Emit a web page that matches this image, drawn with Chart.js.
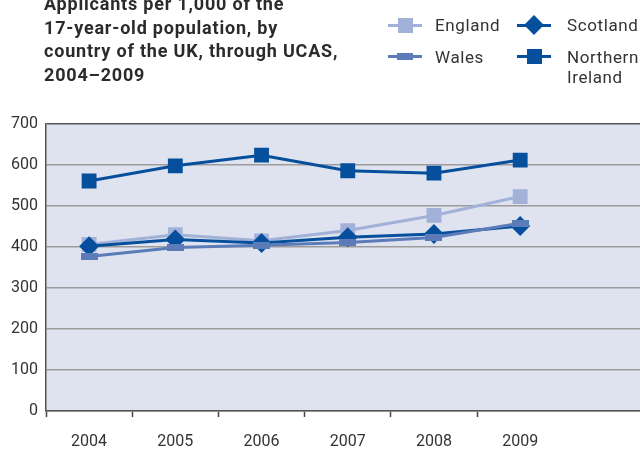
<!DOCTYPE html>
<html>
<head>
<meta charset="utf-8">
<script src="https://cdn.jsdelivr.net/npm/chart.js@4/dist/chart.umd.min.js"></script>
<style>
  html, body { margin: 0; padding: 0; width: 640px; height: 449px; overflow: hidden; background: #fff; }
  #wrap { position: relative; width: 640px; height: 449px; overflow: hidden; }
  #chart { position: absolute; left: 0; top: 0; }
  .title { position: absolute; left: 44px; top: -8px; font: bold 18px "Roboto", sans-serif; line-height: 23.5px; color: #2b2b2b; letter-spacing: 0.8px; white-space: nowrap; }
  .leg { position: absolute; font: 17px "Roboto", sans-serif; color: #333; line-height: 20px; letter-spacing: 0.6px; }
  .icon { position: absolute; width: 34px; height: 20px; }
  .icon .ln { position: absolute; left: 0; right: 0; top: 8px; height: 3px; }
  .icon .mk { position: absolute; }
</style>
</head>
<body>
<div id="wrap">
  <canvas id="chart" width="660" height="449"></canvas>
  <div class="title">Applicants per 1,000 of the<br>17-year-old population, by<br>country of the UK, through UCAS,<br>2004–2009</div>

  <div class="icon" style="left:388px;top:16px"><div class="ln" style="background:#a2b1d8"></div><div class="mk" style="left:10px;top:2px;width:15px;height:15px;background:#a2b1d8"></div></div>
  <div class="leg" style="left:435px;top:15px">England</div>

  <div class="icon" style="left:388px;top:47px"><div class="ln" style="background:#5b7bb9"></div><div class="mk" style="left:9px;top:6px;width:16px;height:7px;background:#5b7bb9"></div></div>
  <div class="leg" style="left:435px;top:47px">Wales</div>

  <div class="icon" style="left:517px;top:16px"><div class="ln" style="background:#064f9c"></div><div class="mk" style="left:10px;top:2px;width:14px;height:14px;background:#064f9c;transform:rotate(45deg)"></div></div>
  <div class="leg" style="left:567px;top:15px">Scotland</div>

  <div class="icon" style="left:517px;top:47px"><div class="ln" style="background:#064f9c"></div><div class="mk" style="left:10px;top:2px;width:15px;height:15px;background:#064f9c"></div></div>
  <div class="leg" style="left:567px;top:47px">Northern<br>Ireland</div>
</div>
<script>
// applicants per 1,000 17-year-olds
var years = ["2004", "2005", "2006", "2007", "2008", "2009"];
var england = [406, 430, 415, 440, 477, 523];
var wales = [377, 399, 404, 411, 423, 458];
var scotland = [402, 418, 410, 424, 432, 451];
var northernIreland = [561, 598, 624, 586, 580, 612];
var yTicks = [0, 100, 200, 300, 400, 500, 600, 700];

var cLight = "#a2b1d8", cMid = "#5b7bb9", cDark = "#064f9c";
var font = "'Roboto', sans-serif";

// flat bar marker for Wales
function barMarker(w, h, color) {
	var c = document.createElement("canvas");
	c.width = w; c.height = h;
	var g = c.getContext("2d");
	g.fillStyle = color;
	g.fillRect(0, 0, w, h);
	return c;
}

// plot background
var plotBg = {
	id: "plotBg",
	beforeDraw: function(chart) {
		var a = chart.chartArea, ctx = chart.ctx;
		ctx.save();
		ctx.fillStyle = "#dee3ef";
		ctx.fillRect(a.left, a.top, a.right - a.left, a.bottom - a.top);
		ctx.restore();
	}
};

// one empty slot after 2009 so the plot runs on past the edge
var labels = years.concat([""]);

var ctx = document.getElementById("chart").getContext("2d");
var myChart = new Chart(ctx, {
	type: "line",
	data: {
		labels: labels,
		datasets: [{
			label: "England", data: england, order: 4,
			borderColor: cLight, backgroundColor: cLight, borderWidth: 3,
			pointStyle: "rect", pointRadius: 10.5, pointBorderWidth: 0
		}, {
			label: "Scotland", data: scotland, order: 3,
			borderColor: cDark, backgroundColor: cDark, borderWidth: 3,
			pointStyle: "rectRot", pointRadius: 10, pointBorderWidth: 0
		}, {
			label: "Wales", data: wales, order: 2,
			borderColor: cMid, backgroundColor: cMid, borderWidth: 3,
			pointStyle: barMarker(17, 7, cMid), pointBorderWidth: 0
		}, {
			label: "Northern Ireland", data: northernIreland, order: 1,
			borderColor: cDark, backgroundColor: cDark, borderWidth: 3,
			pointStyle: "rect", pointRadius: 10.5, pointBorderWidth: 0
		}]
	},
	options: {
		responsive: false,
		animation: false,
		layout: { padding: { top: 124, right: 10, left: 0, bottom: 0 } },
		plugins: { legend: { display: false }, tooltip: { enabled: false } },
		scales: {
			x: {
				offset: true,
				afterFit: function(s) { s.height = 38; },
				grid: {
					offset: true, drawOnChartArea: false, tickLength: 6,
					tickColor: function(c) { return c.index < 6 ? "#444" : "rgba(0,0,0,0)"; },
					tickWidth: 1.5
				},
				border: { color: "#555", width: 1.5 },
				ticks: { color: "#333", font: { family: font, size: 16 }, padding: 15, maxRotation: 0 }
			},
			y: {
				min: 0, max: 700,
				afterFit: function(s) { s.width = 46; },
				afterBuildTicks: function(s) { s.ticks = yTicks.map(function(v) { return { value: v }; }); },
				grid: {
					drawTicks: false,
					color: function(c) { return (c.tick && c.tick.value === 700) ? "#555" : "#9c9c9c"; },
					lineWidth: 1.5
				},
				border: { color: "#555", width: 1.5 },
				ticks: { color: "#333", font: { family: font, size: 16 }, padding: 8 }
			}
		}
	},
	plugins: [plotBg]
});
</script>
</body>
</html>
